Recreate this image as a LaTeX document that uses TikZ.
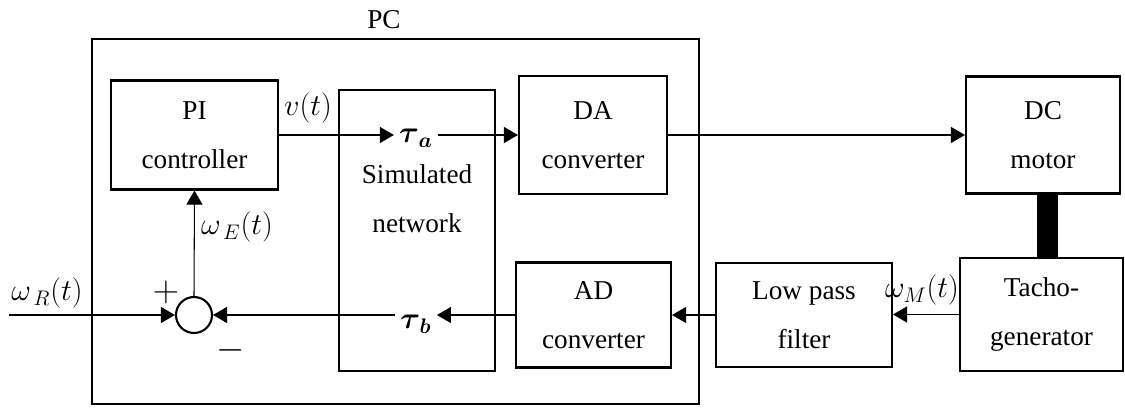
\documentclass[tikz,border=0pt]{standalone}
\usepackage{fontspec}
\setmainfont{Liberation Serif}
\usepackage{amsmath}
\usepackage{bm}
\usetikzlibrary{arrows.meta}
\tikzset{
  blk/.style={rectangle,draw,line width=1.2pt,align=center,inner sep=0pt,
              font=\fontsize{15.5}{28}\selectfont},
  lbl/.style={inner sep=0pt,font=\fontsize{17}{20}\selectfont},
  sumj/.style={circle,draw,line width=1.2pt,minimum size=0.72cm,inner sep=0pt},
  arr/.style={-{Triangle[length=0.28cm,width=0.32cm]},line width=0.6pt},
}

\begin{document}
\begin{tikzpicture}[x=0.02cm,y=-0.02cm]
  \useasboundingbox (0,0) rectangle (1125,408);

  % PC frame
  \node[blk,minimum width=12.14cm,minimum height=7.3cm] (pc) at (395.5,221.5) {};
  \node[lbl,font=\fontsize{15.5}{18}\selectfont] (pclbl) at (384,20) {PC};

  % blocks
  \node[blk,minimum width=3.34cm,minimum height=2.18cm] (pi) at (194.5,135) {PI\\controller};
  \node[blk,minimum width=3.12cm,minimum height=5.62cm] (sim) at (417,230.5) {};
  \node[lbl,align=center,font=\fontsize{15.5}{28}\selectfont] (simtxt) at (417,199) {Simulated\\network};
  \node[blk,minimum width=2.96cm,minimum height=2.36cm] (da) at (593,135) {DA\\converter};
  \node[blk,minimum width=3.1cm,minimum height=2.1cm] (ad) at (593.5,315) {AD\\converter};
  \node[blk,minimum width=3.52cm,minimum height=2.08cm] (lpf) at (804,315) {Low pass\\filter};
  \node[blk,minimum width=3.08cm,minimum height=2.34cm] (dc) at (1043,135) {DC\\motor};
  \node[blk,minimum width=3.26cm,minimum height=2.26cm] (tacho) at (1041.5,314.5) {Tacho-\\generator};
  \fill (1037,193) rectangle (1058,258);

  % summing junction
  \node[sumj] (sum) at (194,315) {};
  \coordinate (in) at (9,315);

  % signal labels
  \node[lbl,inner xsep=0.1cm] (ta) at (416,138) {$\bm{\tau}_{\,\bm{a}}$};
  \node[lbl,inner xsep=0.1cm] (tb) at (416,324) {$\bm{\tau}_{\,\bm{b}}$};
  \node[lbl] (vt) at (308,108) {$v(t)$};
  \node[lbl] (wr) at (47,293) {$\omega_{\,R}(t)$};
  \node[lbl] (we) at (237,227) {$\omega_{\,E}(t)$};
  \node[lbl] (wm) at (922,290) {$\omega_{M}(t)$};
  \node[lbl,font=\fontsize{20}{22}\selectfont] (plus) at (166,292) {$+$};
  \node[lbl,font=\fontsize{20}{22}\selectfont] (minus) at (231,350) {$-$};

  % forward path
  \draw[arr] (in) -- (sum.west);
  \draw[arr] (sum.north) -- (pi.south);
  \draw[arr] (pi.east) -- (ta.west |- pi.east);
  \draw[arr] (ta.east |- da.west) -- (da.west);
  \draw[arr] (da.east) -- (dc.west);

  % feedback path
  \draw[arr] (tacho.west) -- (lpf.east |- tacho.west);
  \draw[arr] (lpf.west) -- (ad.east);
  \draw[arr] (ad.west) -- (tb.east |- ad.west);
  \draw[arr] (tb.west |- sum.east) -- (sum.east);

\end{tikzpicture}
\end{document}
